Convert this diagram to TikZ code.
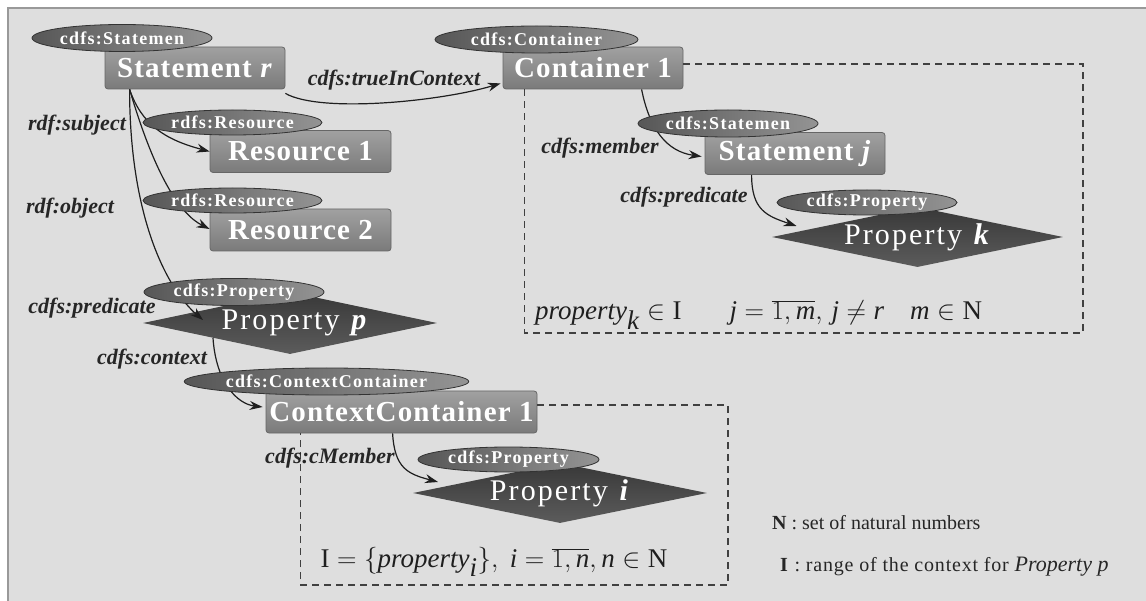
\RequirePackage{fix-cm}
\documentclass[tikz,border=0pt]{standalone}
\usepackage{fontspec}
\setmainfont{Liberation Serif}
\newfontfamily\spacedserif[LetterSpace=4]{Liberation Serif}
\newfontfamily\widespaced[LetterSpace=7]{Liberation Serif}
\usetikzlibrary{shapes.geometric,arrows.meta}
\begin{document}
\begin{tikzpicture}[x=1pt,y=-1pt,
  box/.style={rectangle, rounded corners=3pt, draw=black!60, line width=0.8pt,
    top color=black!37, bottom color=black!52, text=white,
    font={\fontsize{29}{32}\spacedserif\bfseries}, inner sep=0pt, minimum height=42pt},
  tag/.style={ellipse, draw=black!80, line width=0.8pt,
    left color=black!66, right color=black!42, text=white,
    font={\fontsize{18}{20}\widespaced\bfseries}, inner sep=0pt, minimum height=27pt},
  prop/.style={diamond, aspect=5, inner sep=0pt,
    top color=black!78, bottom color=black!64, text=white,
    font={\fontsize{30}{32}\widespaced}, minimum width=294pt, minimum height=62pt},
  rel/.style={draw=black!88, line width=1.2pt, -{Stealth[length=13pt,width=9pt]}},
  lbl/.style={font=\fontsize{22}{24}\selectfont\bfseries\itshape, text=black!85, inner sep=0pt},
  formula/.style={font=\fontsize{27}{30}\selectfont, text=black!88, inner sep=0pt},
  legend/.style={font=\fontsize{20}{22}\selectfont, text=black!85, inner sep=0pt, anchor=west},
  groupbox/.style={draw=black!75, line width=1.2pt, dash pattern=on 7pt off 5pt}
]
\useasboundingbox (0,0) rectangle (1146,601);
% panel
\fill[black!13] (8,8) rectangle (1146,601);
\draw[black!40, line width=1.5pt] (8,601) -- (8,8) -- (1146,8);

% resources and statements
\node[box, minimum width=180pt] (sr) at (195,68) {Statement \textit{r}};
\node[box, minimum width=180pt] (c1) at (593,68) {Container 1};
\node[box, minimum width=181pt] (r1) at (300.5,151.5) {Resource 1};
\node[box, minimum width=181pt] (r2) at (300.5,230) {Resource 2};
\node[box, minimum width=180pt] (sj) at (795,153.5) {Statement \textit{j}};
\node[box, minimum width=271pt] (cc) at (401.5,412) {ContextContainer 1};

% properties
\node[prop] (pp) at (290,323) {\hspace{10pt}Property \textbf{\textit{p}}};
\node[prop, minimum width=291pt, minimum height=60pt] (pk) at (917.5,237) {\raisebox{4pt}{Property \textbf{\textit{k}}}};
\node[prop, minimum height=60pt] (pi) at (560,493) {\raisebox{3pt}{Property \textbf{\textit{i}}}};

% scopes of the containers
\draw[groupbox] ([yshift=4pt]c1.east) -| (1083,333) -| ([xshift=22pt]c1.south west);
\draw[groupbox] ([yshift=7pt]cc.east) -| (728,585) -| ([xshift=35pt]cc.south west);

% relations
\draw[rel] ([xshift=25pt]sr.south west) .. controls +(12,35) and +(-45,-12) .. (r1.west);
\draw[rel] ([xshift=25pt]sr.south west) .. controls +(25,85) and +(-30,-15) .. ([shift={(0,-1)}]r2.west);
\draw[rel] ([xshift=25pt]sr.south west) .. controls +(0,130) and +(-35,-30) .. ([shift={(-87,-3)}]pp.center);
\draw[rel] ([yshift=-4pt]sr.south east) .. controls +(35,20) and +(-60,18) .. ([shift={(-2,-6)}]c1.south west);
\draw[rel] ([shift={(-77,15)}]pp.center) .. controls +(3,45) and +(-25,-3) .. ([shift={(-3,-5)}]cc.west);
\draw[rel] ([xshift=127pt]cc.south west) .. controls +(2,35) and +(-30,-8) .. ([shift={(-122,-11)}]pi.center);
\draw[rel] ([xshift=139pt]c1.south west) .. controls +(8,40) and +(-35,-5) .. ([shift={(-3,3)}]sj.west);
\draw[rel] ([xshift=47pt]sj.south west) .. controls +(0,35) and +(-30,-10) .. ([shift={(-121,-11)}]pk.center);

% class tags
\node[tag, minimum width=180pt] (tsr) at (122,38) {cdfs:Statemen};
\node[tag, minimum width=203pt] (tc1) at (536.5,39.5) {cdfs:Container};
\node[tag, minimum width=179pt, minimum height=25pt] (tr1) at (232.5,122.5) {rdfs:Resource};
\node[tag, minimum width=179pt, minimum height=25pt] (tr2) at (232.5,200.5) {rdfs:Resource};
\node[tag, minimum width=180pt] (tpp) at (234,292) {cdfs:Property};
\node[tag, minimum width=263pt] (tcc) at (326.5,381.5) {cdfs:ContextContainer};
\node[tag, minimum width=180pt] (tsj) at (728,123.5) {cdfs:Statemen};
\node[tag, minimum width=180pt, minimum height=25pt] (tpk) at (867,202.5) {cdfs:Property};
\node[tag, minimum width=181pt, minimum height=25pt] (tpi) at (508.5,459.5) {cdfs:Property};

% relation names
\node[lbl] (ltrue) at (394,80) {cdfs:trueInContext};
\node[lbl] (lsub) at (77,125) {rdf:subject};
\node[lbl] (lobj) at (70,208) {rdf:object};
\node[lbl] (lpred) at (92,308) {cdfs:predicate};
\node[lbl] (lctx) at (152,359) {cdfs:context};
\node[lbl] (lcm) at (330,458) {cdfs:cMember};
\node[lbl] (lmem) at (600,148) {cdfs:member};
\node[lbl] (lpredk) at (684,197) {cdfs:predicate};

% constraints
\node[formula, anchor=west] (fk) at (535,315)
  {$\textit{property}_{\textit{k}}\in\mathrm{I}$\hspace{48pt}$\textit{j}=\overline{1,\textit{m}},\,\textit{j}\neq\textit{r}$\hspace{26pt}$\textit{m}\in\mathrm{N}$};
\node[formula] (fi) at (494,562)
  {$\mathrm{I}=\bigl\{\textit{property}_{\textit{i}}\bigr\},\ \textit{i}=\overline{1,\textit{n}},\textit{n}\in\mathrm{N}$};

% legend
\node[legend] (legn) at (772,523) {\textbf{N} : set of natural numbers};
\node[legend] (legi) at (780,567) {{\spacedserif\textbf{I} : range of the context for }{\fontsize{22}{24}\selectfont\textit{Property p}}};
\end{tikzpicture}
\end{document}
